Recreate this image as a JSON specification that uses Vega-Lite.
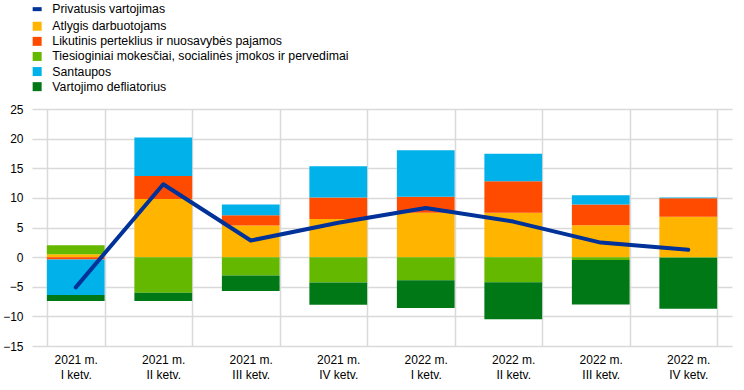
{
  "$schema": "https://vega.github.io/schema/vega-lite/v6.json",
  "width": 700,
  "height": 237,
  "autosize": {"type": "none"},
  "padding": {"left": 32, "top": 109, "right": 12, "bottom": 44},
  "background": "white",
  "config": {
    "view": {"stroke": null},
    "font": "Liberation Sans",
    "axis": {"labelFont": "Liberation Sans", "labelFontSize": 12, "labelColor": "#000000", "gridColor": "#d9d9d9", "gridWidth": 1.5, "domain": false, "ticks": false, "title": null}
  },
  "data": {
    "values": [
      {"q": "2021 m. I ketv.", "s": "Atlygis darbuotojams", "o": 1, "v": 0.5},
      {"q": "2021 m. I ketv.", "s": "Likutinis perteklius ir nuosavybės pajamos", "o": 2, "v": -0.4},
      {"q": "2021 m. I ketv.", "s": "Tiesioginiai mokesčiai, socialinės įmokos ir pervedimai", "o": 3, "v": 1.5},
      {"q": "2021 m. I ketv.", "s": "Santaupos", "o": 4, "v": -6.0},
      {"q": "2021 m. I ketv.", "s": "Vartojimo defliatorius", "o": 5, "v": -1.0},
      {"q": "2021 m. I ketv.", "s": "Privatusis vartojimas", "o": 0, "v": -5.1},

      {"q": "2021 m. II ketv.", "s": "Atlygis darbuotojams", "o": 1, "v": 9.8},
      {"q": "2021 m. II ketv.", "s": "Likutinis perteklius ir nuosavybės pajamos", "o": 2, "v": 3.9},
      {"q": "2021 m. II ketv.", "s": "Tiesioginiai mokesčiai, socialinės įmokos ir pervedimai", "o": 3, "v": -6.0},
      {"q": "2021 m. II ketv.", "s": "Santaupos", "o": 4, "v": 6.5},
      {"q": "2021 m. II ketv.", "s": "Vartojimo defliatorius", "o": 5, "v": -1.4},
      {"q": "2021 m. II ketv.", "s": "Privatusis vartojimas", "o": 0, "v": 12.3},

      {"q": "2021 m. III ketv.", "s": "Atlygis darbuotojams", "o": 1, "v": 5.35},
      {"q": "2021 m. III ketv.", "s": "Likutinis perteklius ir nuosavybės pajamos", "o": 2, "v": 1.7},
      {"q": "2021 m. III ketv.", "s": "Tiesioginiai mokesčiai, socialinės įmokos ir pervedimai", "o": 3, "v": -3.1},
      {"q": "2021 m. III ketv.", "s": "Santaupos", "o": 4, "v": 1.85},
      {"q": "2021 m. III ketv.", "s": "Vartojimo defliatorius", "o": 5, "v": -2.6},
      {"q": "2021 m. III ketv.", "s": "Privatusis vartojimas", "o": 0, "v": 2.8},

      {"q": "2021 m. IV ketv.", "s": "Atlygis darbuotojams", "o": 1, "v": 6.45},
      {"q": "2021 m. IV ketv.", "s": "Likutinis perteklius ir nuosavybės pajamos", "o": 2, "v": 3.6},
      {"q": "2021 m. IV ketv.", "s": "Tiesioginiai mokesčiai, socialinės įmokos ir pervedimai", "o": 3, "v": -4.3},
      {"q": "2021 m. IV ketv.", "s": "Santaupos", "o": 4, "v": 5.3},
      {"q": "2021 m. IV ketv.", "s": "Vartojimo defliatorius", "o": 5, "v": -3.75},
      {"q": "2021 m. IV ketv.", "s": "Privatusis vartojimas", "o": 0, "v": 5.8},

      {"q": "2022 m. I ketv.", "s": "Atlygis darbuotojams", "o": 1, "v": 7.5},
      {"q": "2022 m. I ketv.", "s": "Likutinis perteklius ir nuosavybės pajamos", "o": 2, "v": 2.7},
      {"q": "2022 m. I ketv.", "s": "Tiesioginiai mokesčiai, socialinės įmokos ir pervedimai", "o": 3, "v": -3.9},
      {"q": "2022 m. I ketv.", "s": "Santaupos", "o": 4, "v": 7.85},
      {"q": "2022 m. I ketv.", "s": "Vartojimo defliatorius", "o": 5, "v": -4.7},
      {"q": "2022 m. I ketv.", "s": "Privatusis vartojimas", "o": 0, "v": 8.3},

      {"q": "2022 m. II ketv.", "s": "Atlygis darbuotojams", "o": 1, "v": 7.5},
      {"q": "2022 m. II ketv.", "s": "Likutinis perteklius ir nuosavybės pajamos", "o": 2, "v": 5.3},
      {"q": "2022 m. II ketv.", "s": "Tiesioginiai mokesčiai, socialinės įmokos ir pervedimai", "o": 3, "v": -4.25},
      {"q": "2022 m. II ketv.", "s": "Santaupos", "o": 4, "v": 4.65},
      {"q": "2022 m. II ketv.", "s": "Vartojimo defliatorius", "o": 5, "v": -6.25},
      {"q": "2022 m. II ketv.", "s": "Privatusis vartojimas", "o": 0, "v": 6.0},

      {"q": "2022 m. III ketv.", "s": "Atlygis darbuotojams", "o": 1, "v": 5.4},
      {"q": "2022 m. III ketv.", "s": "Likutinis perteklius ir nuosavybės pajamos", "o": 2, "v": 3.5},
      {"q": "2022 m. III ketv.", "s": "Tiesioginiai mokesčiai, socialinės įmokos ir pervedimai", "o": 3, "v": -0.5},
      {"q": "2022 m. III ketv.", "s": "Santaupos", "o": 4, "v": 1.55},
      {"q": "2022 m. III ketv.", "s": "Vartojimo defliatorius", "o": 5, "v": -7.5},
      {"q": "2022 m. III ketv.", "s": "Privatusis vartojimas", "o": 0, "v": 2.45},

      {"q": "2022 m. IV ketv.", "s": "Atlygis darbuotojams", "o": 1, "v": 6.8},
      {"q": "2022 m. IV ketv.", "s": "Likutinis perteklius ir nuosavybės pajamos", "o": 2, "v": 3.15},
      {"q": "2022 m. IV ketv.", "s": "Tiesioginiai mokesčiai, socialinės įmokos ir pervedimai", "o": 3, "v": -0.1},
      {"q": "2022 m. IV ketv.", "s": "Santaupos", "o": 4, "v": 0.1},
      {"q": "2022 m. IV ketv.", "s": "Vartojimo defliatorius", "o": 5, "v": -8.6},
      {"q": "2022 m. IV ketv.", "s": "Privatusis vartojimas", "o": 0, "v": 1.25}
    ]
  },
  "encoding": {
    "x": {
      "field": "q", "type": "nominal", "sort": null,
      "scale": {"paddingInner": 0.34, "paddingOuter": 0.17},
      "axis": {"labelAngle": 0, "tickBand": "extent", "grid": true, "labelPadding": 8, "labelLineHeight": 15,
               "labelExpr": "[substring(datum.label, 0, 7), substring(datum.label, 8)]"}
    },
    "y": {
      "field": "v", "type": "quantitative",
      "scale": {"domain": [-15, 25], "nice": false, "zero": false},
      "axis": {"values": [-15, -10, -5, 0, 5, 10, 15, 20, 25], "grid": true, "labelPadding": 9}
    },
    "color": {
      "field": "s", "type": "nominal",
      "scale": {
        "domain": ["Privatusis vartojimas", "Atlygis darbuotojams", "Likutinis perteklius ir nuosavybės pajamos", "Tiesioginiai mokesčiai, socialinės įmokos ir pervedimai", "Santaupos", "Vartojimo defliatorius"],
        "range": ["#003299", "#FFB400", "#FF4B00", "#65B800", "#00B1EA", "#007816"]
      },
      "legend": {
        "title": null, "orient": "none", "legendX": -1, "legendY": -106, "padding": 0,
        "labelFont": "Liberation Sans", "labelFontSize": 12.3, "labelColor": "#000000",
        "symbolSize": 81, "labelOffset": 9, "rowPadding": 2.1, "labelLimit": 400,
        "encode": {
          "symbols": {"update": {
            "shape": {"signal": "datum.value === 'Privatusis vartojimas' ? 'M-1,0H1' : 'square'"},
            "fill": {"scale": "color", "field": "value"},
            "stroke": {"scale": "color", "field": "value"},
            "strokeWidth": {"signal": "datum.value === 'Privatusis vartojimas' ? 4 : 0"},
            "opacity": {"value": 1}
          }}
        }
      }
    }
  },
  "layer": [
    {
      "transform": [{"filter": "datum.s !== 'Privatusis vartojimas'"}],
      "mark": {"type": "bar", "opacity": 1},
      "encoding": {"order": {"field": "o", "type": "quantitative"}}
    },
    {
      "transform": [{"filter": "datum.s === 'Privatusis vartojimas'"}],
      "mark": {"type": "line", "strokeWidth": 4, "strokeCap": "round", "strokeJoin": "round"},
      "encoding": {}
    }
  ]
}
